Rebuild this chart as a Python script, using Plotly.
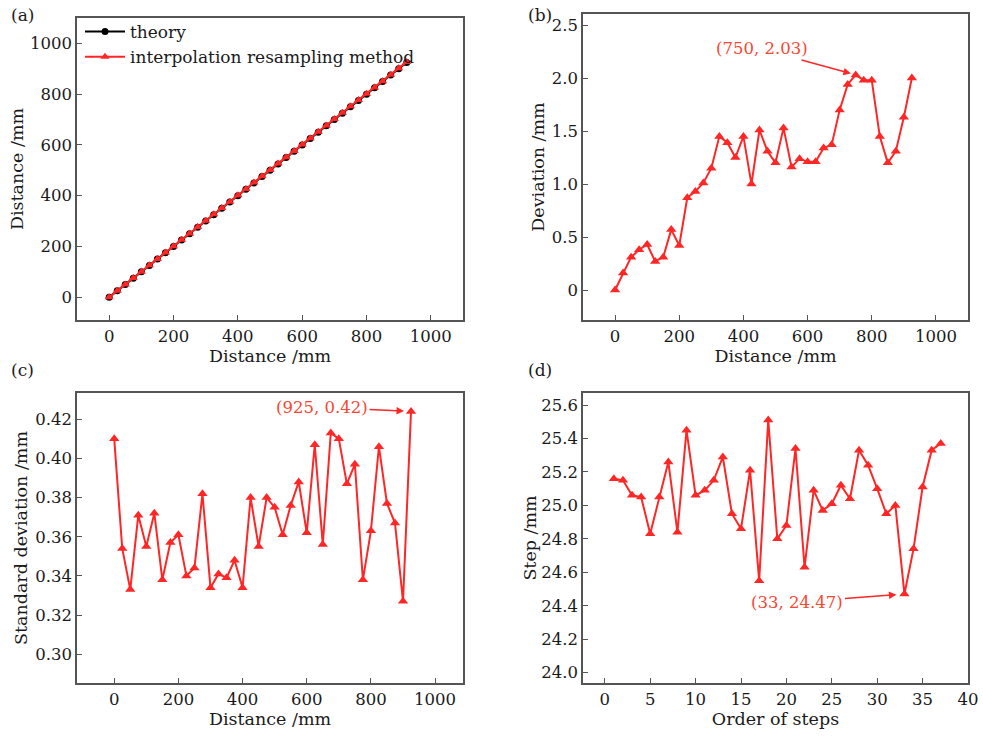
import plotly.graph_objects as go

W, H = 983, 736

# ---------------- data ----------------
distance = [0, 25, 50, 75, 100, 125, 150, 175, 200, 225, 250, 275, 300, 325, 350, 375,
            400, 425, 450, 475, 500, 525, 550, 575, 600, 625, 650, 675, 700, 725, 750,
            775, 800, 825, 850, 875, 900, 925]
theory = [0, 25, 50, 75, 100, 125, 150, 175, 200, 225, 250, 275, 300, 325, 350, 375,
          400, 425, 450, 475, 500, 525, 550, 575, 600, 625, 650, 675, 700, 725, 750,
          775, 800, 825, 850, 875, 900, 925]
method = [0, 25.16, 50.31, 75.38, 100.43, 125.27, 150.31, 175.57, 200.42, 225.87, 250.93,
          276.01, 301.15, 326.45, 351.39, 376.25, 401.45, 426.00, 451.51, 476.31, 501.20,
          526.53, 551.16, 576.24, 601.21, 626.21, 651.34, 676.37, 701.70, 726.94, 752.03,
          776.98, 801.98, 826.45, 851.20, 876.31, 901.63, 927.00]
deviation = [0, 0.16, 0.31, 0.38, 0.43, 0.27, 0.31, 0.57, 0.42, 0.87, 0.93, 1.01, 1.15,
             1.45, 1.39, 1.25, 1.45, 1.00, 1.51, 1.31, 1.20, 1.53, 1.16, 1.24, 1.21, 1.21,
             1.34, 1.37, 1.70, 1.94, 2.03, 1.98, 1.98, 1.45, 1.20, 1.31, 1.63, 2.00]
std_dev = [0.410, 0.354, 0.333, 0.371, 0.355, 0.372, 0.338, 0.357, 0.361, 0.340, 0.344,
           0.382, 0.334, 0.341, 0.339, 0.348, 0.334, 0.380, 0.355, 0.380, 0.375, 0.361,
           0.376, 0.388, 0.362, 0.407, 0.356, 0.413, 0.410, 0.387, 0.397, 0.338, 0.363,
           0.406, 0.377, 0.367, 0.327, 0.424]
step_order = list(range(1, 38))
step = [25.16, 25.15, 25.06, 25.05, 24.83, 25.05, 25.26, 24.84, 25.45, 25.06, 25.09,
        25.15, 25.29, 24.95, 24.86, 25.21, 24.55, 25.51, 24.80, 24.88, 25.34, 24.63,
        25.09, 24.97, 25.01, 25.12, 25.04, 25.33, 25.24, 25.10, 24.95, 25.00, 24.47,
        24.74, 25.11, 25.33, 25.37]

RED = "rgb(255,38,38)"
ANN = "rgb(250,70,50)"
FONT = "DejaVu Serif"
AXC = "#555555"
TXT = "#1a1a1a"

def px(x0, x1):
    return [x0 / W, x1 / W]

def py(top, bottom):
    return [1 - bottom / H, 1 - top / H]

fig = go.Figure()

# (a)
fig.add_trace(go.Scatter(x=distance, y=theory, mode="lines+markers", name="theory",
                         line=dict(color="black", width=2),
                         marker=dict(symbol="circle", size=7, color="black"),
                         xaxis="x", yaxis="y"))
fig.add_trace(go.Scatter(x=distance, y=method, mode="lines+markers",
                         name="interpolation resampling method",
                         line=dict(color=RED, width=2),
                         marker=dict(symbol="triangle-up", size=8, color=RED),
                         xaxis="x", yaxis="y"))
# (b)
fig.add_trace(go.Scatter(x=distance, y=deviation, mode="lines+markers", showlegend=False,
                         line=dict(color=RED, width=2),
                         marker=dict(symbol="triangle-up", size=9, color=RED),
                         xaxis="x2", yaxis="y2"))
# (c)
fig.add_trace(go.Scatter(x=distance, y=std_dev, mode="lines+markers", showlegend=False,
                         line=dict(color=RED, width=2),
                         marker=dict(symbol="triangle-up", size=9, color=RED),
                         xaxis="x3", yaxis="y3"))
# (d)
fig.add_trace(go.Scatter(x=step_order, y=step, mode="lines+markers", showlegend=False,
                         line=dict(color=RED, width=2),
                         marker=dict(symbol="triangle-up", size=9, color=RED),
                         xaxis="x4", yaxis="y4"))

tickfont = dict(family=FONT, size=16.5, color=TXT)
titlefont = dict(family=FONT, size=17.5, color=TXT)

def ax(domain, rng, anchor, title=None, **kw):
    d = dict(domain=domain, range=rng, anchor=anchor, showgrid=False, zeroline=False,
             showline=True, linecolor=AXC, linewidth=1.5, mirror=True, automargin=False,
             ticks="inside", ticklen=5, tickwidth=1.3, tickcolor=AXC,
             tickfont=tickfont)
    if title:
        d["title"] = dict(text=title, font=titlefont, standoff=kw.pop("standoff", 4))
    d.update(kw)
    return d

fig.update_layout(
    template="none",
    width=W, height=H,
    margin=dict(l=0, r=0, t=0, b=0, pad=0, autoexpand=False),
    paper_bgcolor="white", plot_bgcolor="white",
    font=dict(family=FONT, color=TXT),
    xaxis=ax(px(77, 463), [-100, 1100], "y", "Distance /mm", dtick=200, tick0=0, standoff=0),
    yaxis=ax(py(18, 320), [-90, 1100], "x", "Distance /mm", dtick=200, tick0=0, standoff=2),
    xaxis2=ax(px(583, 968), [-100, 1100], "y2", "Distance /mm", dtick=200, tick0=0, standoff=0),
    yaxis2=ax(py(14, 320), [-0.283, 2.605], "x2", "Deviation /mm",
              tickvals=[0, 0.5, 1.0, 1.5, 2.0, 2.5],
              ticktext=["0", "0.5", "1.0", "1.5", "2.0", "2.5"], standoff=3),
    xaxis3=ax(px(77, 463), [-116, 1087], "y3", "Distance /mm", dtick=200, tick0=0, standoff=0),
    yaxis3=ax(py(393, 683), [0.2853, 0.4334], "x3", "Standard deviation /mm",
              dtick=0.02, tick0=0.30, tickformat=".2f", standoff=3),
    xaxis4=ax(px(583, 968), [-2.4, 40], "y4", "Order of steps", dtick=5, tick0=0, standoff=0),
    yaxis4=ax(py(393, 683), [23.938, 25.672], "x4", "Step /mm",
              dtick=0.2, tick0=24.0, tickformat=".1f", standoff=0),
    legend=dict(x=80 / W, y=1 - 14 / H, xanchor="left", yanchor="top",
                bgcolor="rgba(0,0,0,0)", borderwidth=0,
                font=dict(family=FONT, size=17, color=TXT),
                tracegroupgap=0, itemwidth=40),
    showlegend=True,
)

annotations = [
    dict(x=750, y=2.03, xref="x2", yref="y2", text="(750, 2.03)", showarrow=True,
         ax=-94, ay=-26, arrowhead=2, arrowsize=1, arrowwidth=1.5, arrowcolor=RED,
         standoff=5, font=dict(family=FONT, size=16.5, color=ANN)),
    dict(x=925, y=0.424, xref="x3", yref="y3", text="(925, 0.42)", showarrow=True,
         ax=-89, ay=-4, arrowhead=2, arrowsize=1, arrowwidth=1.5, arrowcolor=RED,
         standoff=7, font=dict(family=FONT, size=16.5, color=ANN)),
    dict(x=33, y=24.47, xref="x4", yref="y4", text="(33, 24.47)", showarrow=True,
         ax=-107, ay=8, arrowhead=2, arrowsize=1, arrowwidth=1.5, arrowcolor=RED,
         standoff=8, font=dict(family=FONT, size=16.5, color=ANN)),
]
for lab, xp, yp in [("(a)", 22, 15), ("(b)", 540, 15), ("(c)", 22, 370), ("(d)", 540, 370)]:
    annotations.append(dict(x=xp / W, y=1 - yp / H, xref="paper", yref="paper", text=lab,
                            showarrow=False, xanchor="center", yanchor="middle",
                            font=dict(family=FONT, size=17, color=TXT)))
fig.update_layout(annotations=annotations)

fig.write_html("out.html", config={"responsive": False, "displayModeBar": False},
               post_script="document.body.style.margin='0';document.body.style.overflow='hidden';")
